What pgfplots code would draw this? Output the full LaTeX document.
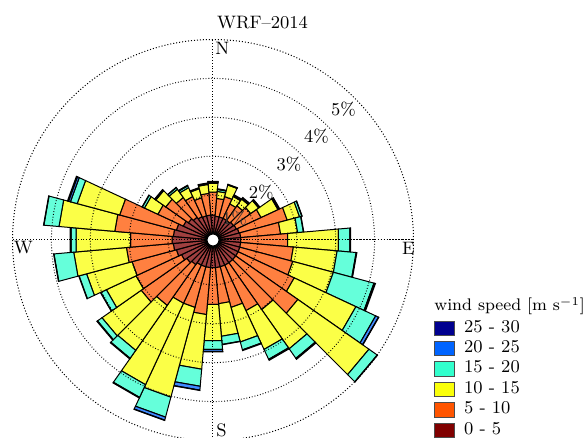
\documentclass[border=0pt]{standalone}
\usepackage{pgfplots}
\pgfplotsset{compat=1.18}
\usepackage{pgfplotstable}
\usepgfplotslibrary{polar}
\definecolor{c1}{RGB}{128,0,0}
\definecolor{c2}{RGB}{255,85,0}
\definecolor{c3}{RGB}{250,255,10}
\definecolor{c4}{RGB}{50,255,205}
\definecolor{c5}{RGB}{0,100,255}
\definecolor{c6}{RGB}{0,0,143}
% cumulative frequency (%) at the top of each speed class, per direction (deg from N, clockwise)
\pgfplotstableread{
dir b1 b2 b3 b4 b5 b6
0   0.49 1.08 1.31 1.33 1.35 1.36
10  0.46 0.92 1.10 1.15 1.15 1.17
20  0.46 1.00 1.31 1.32 1.32 1.33
30  0.46 0.87 1.08 1.10 1.10 1.13
40  0.46 0.92 1.13 1.15 1.15 1.18
50  0.49 1.03 1.28 1.31 1.31 1.32
60  0.51 1.21 1.69 1.72 1.72 1.74
70  0.54 1.82 2.15 2.21 2.21 2.22
80  0.56 1.59 2.03 2.18 2.18 2.19
90  0.56 1.77 3.08 3.38 3.38 3.40
100 0.56 1.92 3.05 3.54 3.54 3.56
110 0.56 1.97 3.05 4.13 4.15 4.17
120 0.56 2.15 3.90 4.46 4.54 4.55
130 0.56 2.51 4.74 5.00 5.00 5.01
140 0.56 2.03 3.26 3.56 3.56 3.59
150 0.56 1.85 2.95 3.23 3.23 3.26
160 0.56 1.64 2.56 2.77 2.77 2.79
170 0.56 1.49 2.33 2.54 2.54 2.55
180 0.56 1.51 2.44 2.67 2.72 2.73
190 0.56 1.77 3.18 3.62 3.72 3.73
200 0.56 1.64 4.03 4.56 4.64 4.65
210 0.56 1.64 3.95 4.31 4.31 4.33
220 0.62 1.90 3.31 3.56 3.56 3.58
230 0.67 2.10 3.33 3.47 3.47 3.49
240 0.74 2.03 2.87 3.03 3.03 3.04
250 0.82 2.00 3.21 3.41 3.41 3.42
260 0.87 2.08 3.44 3.95 3.95 3.96
270 0.90 1.97 3.38 3.51 3.51 3.53
280 0.87 2.38 3.82 4.21 4.21 4.22
290 0.82 2.33 3.46 3.64 3.69 3.72
300 0.69 1.41 1.79 1.85 1.85 1.86
310 0.62 1.33 1.64 1.67 1.67 1.68
320 0.56 1.18 1.44 1.49 1.49 1.50
330 0.51 1.08 1.33 1.38 1.38 1.40
340 0.49 0.97 1.21 1.23 1.23 1.24
350 0.49 1.05 1.28 1.31 1.31 1.32
}\windtable
\begin{document}
\begin{tikzpicture}
\begin{polaraxis}[
  at={(0,0)}, anchor=origin,
  scale only axis, width=200.5pt, height=200.5pt,
  xmin=0, xmax=360, ymin=0, ymax=5.154,
  clip=false, axis on top,
  xtick={0,90,180,270}, xticklabels={},
  ytick={1.154,2.154,3.154,4.154}, yticklabels={},
  grid=major,
  major grid style={densely dotted, black, line width=0.5pt},
  axis line style={densely dotted, black, line width=0.5pt},
  major tick length=0pt,
  bar/.style={draw=black, line width=0.5pt, fill opacity=0.75},
  legend image code/.code={\draw[#1] (0pt,-3.6pt) rectangle (9.7pt,3.6pt);},
  legend cell align=left,
  legend style={at={(axis description cs:1.051,0.306)}, anchor=north west,
    draw=none, fill=none, inner sep=0pt, font=\small, row sep=0pt, column sep=4pt,
    nodes={inner sep=0.75pt, text height=6.2pt, text depth=2.5pt}},
]
\addlegendimage{fill=c6, draw=black!70, line width=0.5pt}\addlegendentry{25 - 30}
\addlegendimage{fill=c5, draw=black!70, line width=0.5pt}\addlegendentry{20 - 25}
\addlegendimage{fill=c4, draw=black!70, line width=0.5pt}\addlegendentry{15 - 20}
\addlegendimage{fill=c3, draw=black!70, line width=0.5pt}\addlegendentry{10 - 15}
\addlegendimage{fill=c2, draw=black!70, line width=0.5pt}\addlegendentry{5 - 10}
\addlegendimage{fill=c1, draw=black!70, line width=0.5pt}\addlegendentry{0 - 5}
\pgfplotsinvokeforeach{0,...,35}{%
  \pgfplotstablegetelem{#1}{dir}\of\windtable
  \pgfmathsetmacro\ta{mod(445-\pgfplotsretval,360)}%
  \pgfmathsetmacro\tb{mod(455-\pgfplotsretval,360)}%
  \def\rprev{0.154}%
  \pgfplotsforeachungrouped \j in {1,...,6}{%
    \pgfplotstablegetelem{#1}{b\j}\of\windtable
    \pgfmathsetmacro\rcur{\pgfplotsretval+0.154}%
    \pgfmathtruncatemacro\ok{(\rcur-\rprev)>0.0005}%
    \ifnum\ok=1
      \edef\cmd{\noexpand\addplot[bar, fill=c\j] coordinates {(\ta,\rprev) (\ta,\rcur) (\tb,\rcur) (\tb,\rprev)} -- cycle;}%
      \cmd
    \fi
    \let\rprev\rcur
  }%
}
\node[font=\small, text=black!80] at (axis cs:45,0.78) {1\%};
\node[font=\small] at (axis cs:45,1.75) {2\%};
\node[font=\small] at (axis cs:45,2.76) {3\%};
\node[font=\small] at (axis cs:45,3.76) {4\%};
\node[font=\small] at (axis cs:45,4.74) {5\%};
\end{polaraxis}
\draw[fill=white, line width=0.5pt] (0,0) circle (3pt);
\node[font=\small, anchor=north west, inner sep=1pt] at (0,100.25pt) {N};
\node[font=\small, anchor=north east, inner sep=1pt] at (102pt,0) {E};
\node[font=\small, anchor=south west, inner sep=1.5pt] at (0,-100.25pt) {S};
\node[font=\small, anchor=north west, inner sep=0.5pt] at (-100.25pt,0) {W};
\node[font=\small] at (24.75pt,108.5pt) {WRF--2014};
\node[font=\fontsize{8.4}{10}\selectfont, anchor=base west, inner sep=0pt] at (110.5pt,-35.5pt) {wind speed [m s$^{-1}$]};
\pgfresetboundingbox
\useasboundingbox (-106.5pt,-99pt) rectangle (185.5pt,120pt);
\end{tikzpicture}
\end{document}
